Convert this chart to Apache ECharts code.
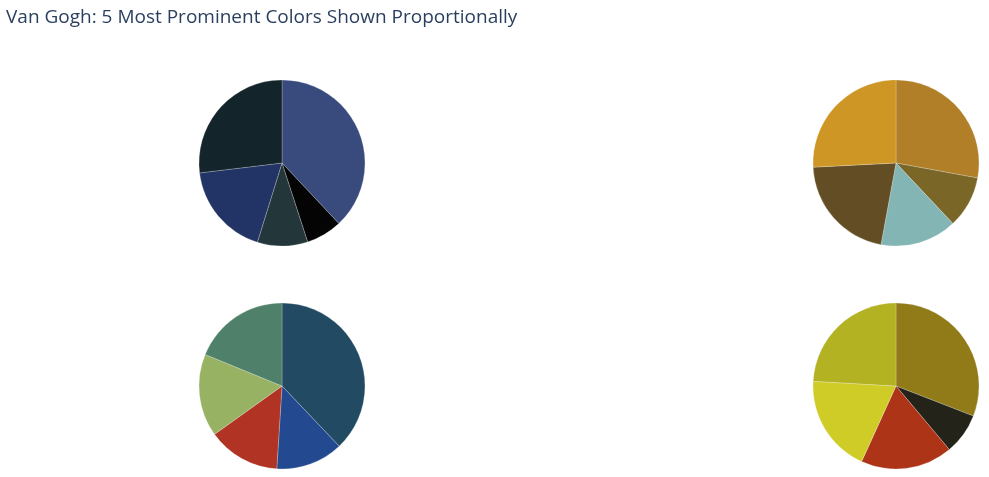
<!DOCTYPE html>
<html>
<head>
<meta charset="utf-8">
<script src="https://cdn.jsdelivr.net/npm/echarts@6/dist/echarts.min.js"></script>
<style>
html,body{margin:0;padding:0;background:#fff;}
#chart{width:989px;height:477px;}
</style>
</head>
<body>
<div id="chart"></div>
<script>
// Shares (%) of the 5 most prominent colours, clockwise from 12 o'clock
const painting1Colors = ['#394b7d', '#050404', '#23363a', '#223466', '#13242a'];
const painting1Values = [38.0, 7.0, 9.8, 18.3, 26.9];

const painting2Colors = ['#b07f27', '#7a6627', '#82b5b4', '#624d25', '#ce9624'];
const painting2Values = [27.9, 10.1, 14.9, 21.3, 25.8];

const painting3Colors = ['#224b63', '#234a91', '#b03324', '#98b264', '#4f8069'];
const painting3Values = [37.9, 13.1, 14.1, 16.1, 18.8];

const painting4Colors = ['#917a18', '#23231a', '#ae3418', '#cfcb27', '#b2b223'];
const painting4Values = [30.9, 8.0, 17.9, 19.1, 24.1];

const titleText = 'Van Gogh: 5 Most Prominent Colors Shown Proportionally';

function makeData(colors, values) {
  return values.map((v, i) => ({ name: colors[i], value: v, itemStyle: { color: colors[i] } }));
}

const pies = [
  { colors: painting1Colors, values: painting1Values, center: [282, 163] },
  { colors: painting2Colors, values: painting2Values, center: [896, 163] },
  { colors: painting3Colors, values: painting3Values, center: [282, 386] },
  { colors: painting4Colors, values: painting4Values, center: [896, 386] }
];

const chart = echarts.init(document.getElementById('chart'), null, { renderer: 'canvas' });
chart.setOption({
  animation: false,
  backgroundColor: '#fff',
  title: {
    text: titleText,
    left: 6,
    top: 8,
    padding: 0,
    textStyle: { fontFamily: 'Open Sans', fontSize: 19, fontWeight: 'normal', color: '#2a3f5f' }
  },
  series: pies.map(p => ({
    type: 'pie',
    center: p.center,
    radius: [0, 83],
    startAngle: 90,
    clockwise: true,
    label: { show: false },
    labelLine: { show: false },
    emphasis: { disabled: true },
    itemStyle: { borderColor: 'rgba(255,255,255,0.45)', borderWidth: 0.5 },
    data: makeData(p.colors, p.values)
  }))
});
</script>
</body>
</html>
